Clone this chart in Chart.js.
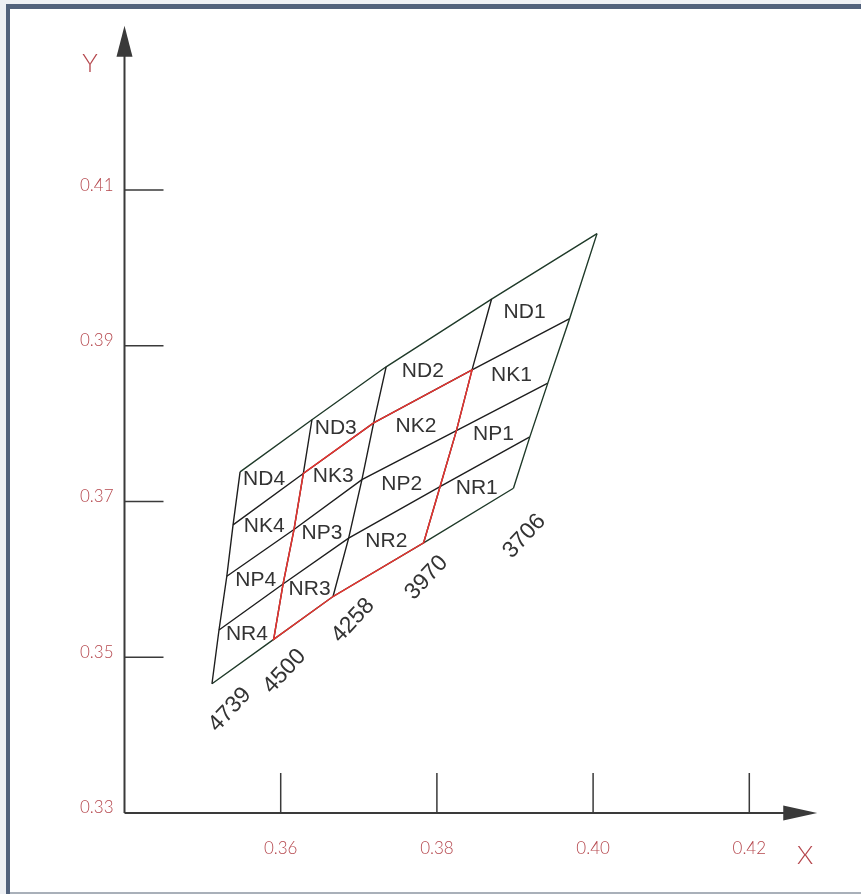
<!DOCTYPE html>
<html>
<head>
<meta charset="utf-8">
<script src="https://cdn.jsdelivr.net/npm/chart.js@4.4.1/dist/chart.umd.min.js"></script>
<style>
    html, body { margin: 0; padding: 0; background: #fff; }
    #wrap { position: relative; width: 861px; height: 894px; overflow: hidden; }
    canvas { position: absolute; left: 0; top: 0; }
    .edge { position: absolute; }
</style>
</head>
<body>
<div id="wrap">
    <canvas id="myChart" width="861" height="894"></canvas>
    <div class="edge" style="left:0;top:0;width:6px;height:894px;background:#eef0f4"></div>
    <div class="edge" style="left:0;top:0;width:861px;height:4px;background:#eef0f4"></div>
    <div class="edge" style="left:6px;top:4px;width:4px;height:890px;background:#52627c"></div>
    <div class="edge" style="left:6px;top:4px;width:855px;height:5px;background:#52627c"></div>
    <div class="edge" style="left:10px;top:892px;width:851px;height:2px;background:#a9b0b9"></div>
</div>
<script>
const cctLabels = ["4739", "4500", "4258", "3970", "3706"];
const cellLabels = [
    ["ND4", "ND3", "ND2", "ND1"],
    ["NK4", "NK3", "NK2", "NK1"],
    ["NP4", "NP3", "NP2", "NP1"],
    ["NR4", "NR3", "NR2", "NR1"],
];

// x / y of the corners on each CCT line, from the top (ND) edge down to the bottom (NR) edge
const x4739 = [0.3548, 0.3539, 0.3531, 0.3521, 0.3512];
const y4739 = [0.3738, 0.3670, 0.3604, 0.3535, 0.3466];
const x4500 = [0.3640, 0.3629, 0.3617, 0.3603, 0.3591];
const y4500 = [0.3805, 0.3736, 0.3664, 0.3594, 0.3523];
const x4258 = [0.3735, 0.3719, 0.3704, 0.3687, 0.3667];
const y4258 = [0.3873, 0.3801, 0.3728, 0.3653, 0.3578];
const x3970 = [0.3870, 0.3845, 0.3825, 0.3804, 0.3783];
const y3970 = [0.3960, 0.3869, 0.3791, 0.3719, 0.3647];
const x3706 = [0.4005, 0.3970, 0.3942, 0.3919, 0.3898];
const y3706 = [0.4044, 0.3935, 0.3852, 0.3783, 0.3717];

const xTicks = [0.36, 0.38, 0.40, 0.42];
const xTickLabels = ["0.36", "0.38", "0.40", "0.42"];
const yTicks = [0.33, 0.35, 0.37, 0.39, 0.41];
const yTickLabels = ["0.33", "0.35", "0.37", "0.39", "0.41"];

// highlighted block: between the 4500 and 3970 lines, NK down to NR
const redLines = [1, 3];
const redRows = [1, 4];

const lineX = [x4739, x4500, x4258, x3970, x3706];
const lineY = [y4739, y4500, y4258, y3970, y3706];
const node = (c, r) => ({ x: lineX[c][r], y: lineY[c][r] });

const BLACK = "#1e1e1e";
const EDGE = "#1f3a29";
const RED = "#e8332f";

const datasets = [];
const seg = (pts, color, order, width) => ({
    data: pts,
    showLine: true,
    borderColor: color,
    borderWidth: width || 1.4,
    pointRadius: 0,
    fill: false,
    tension: 0,
    order: order,
});

// CCT lines
for (let c = 0; c < 5; c++) {
    const pts = [0, 1, 2, 3, 4].map(r => node(c, r));
    datasets.push(seg(pts, c === 4 ? EDGE : BLACK, 2));
}
// row boundaries
for (let r = 0; r < 5; r++) {
    const pts = [0, 1, 2, 3, 4].map(c => node(c, r));
    datasets.push(seg(pts, (r === 0 || r === 4) ? EDGE : BLACK, 2));
}
// red outline
const redPts = [];
for (let r = redRows[0]; r <= redRows[1]; r++) redPts.push(node(redLines[0], r));
for (let c = redLines[0] + 1; c <= redLines[1]; c++) redPts.push(node(c, redRows[1]));
for (let r = redRows[1] - 1; r >= redRows[0]; r--) redPts.push(node(redLines[1], r));
for (let c = redLines[1] - 1; c >= redLines[0]; c--) redPts.push(node(c, redRows[0]));
datasets.push(seg(redPts, RED, 1, 1.5));

const axisEnd = { x: 0.4287, y: 0.4311 };
const labelRed = "#b5474d";
const cctShift = [[18, 26], [11, 32], [20, 24], [3, 35], [11, 48]];

const decor = {
    id: "decor",
    beforeDatasetsDraw(chart) {
        const { ctx, scales: { x, y } } = chart;
        const x0 = x.getPixelForValue(0.34), y0 = y.getPixelForValue(0.33);
        const xTip = x.getPixelForValue(axisEnd.x), yTip = y.getPixelForValue(axisEnd.y);
        ctx.save();
        ctx.strokeStyle = "#3a3a3a";
        ctx.fillStyle = "#3a3a3a";
        ctx.lineWidth = 2;
        ctx.beginPath();
        ctx.moveTo(x0, y0); ctx.lineTo(x0, yTip + 28);
        ctx.moveTo(x0, y0); ctx.lineTo(xTip - 30, y0);
        ctx.stroke();
        // arrow heads
        ctx.beginPath();
        ctx.moveTo(x0, yTip); ctx.lineTo(x0 - 8, yTip + 31); ctx.lineTo(x0 + 8, yTip + 31);
        ctx.closePath(); ctx.fill();
        ctx.beginPath();
        ctx.moveTo(xTip, y0); ctx.lineTo(xTip - 34, y0 - 7.5); ctx.lineTo(xTip - 34, y0 + 7.5);
        ctx.closePath(); ctx.fill();

        // tick marks, pointing into the plot
        ctx.lineWidth = 1.5;
        ctx.beginPath();
        yTicks.forEach(v => {
            if (v === 0.33) return;
            const py = y.getPixelForValue(v);
            ctx.moveTo(x0, py); ctx.lineTo(x0 + 39, py);
        });
        xTicks.forEach(v => {
            const px = x.getPixelForValue(v);
            ctx.moveTo(px, y0); ctx.lineTo(px, y0 - 40);
        });
        ctx.stroke();

        ctx.fillStyle = labelRed;
        ctx.font = "300 17px Lato";
        ctx.textAlign = "right";
        ctx.textBaseline = "middle";
        yTicks.forEach((v, i) => ctx.fillText(yTickLabels[i], x0 - 11, y.getPixelForValue(v) - 5));
        ctx.textAlign = "center";
        xTicks.forEach((v, i) => ctx.fillText(xTickLabels[i], x.getPixelForValue(v), y0 + 36));
        ctx.font = "300 26px Lato";
        ctx.fillText("Y", 90, 64);
        ctx.fillText("X", 805, 856);
        ctx.restore();
    },
    afterDatasetsDraw(chart) {
        const { ctx, scales: { x, y } } = chart;
        const px = (c, r) => [x.getPixelForValue(lineX[c][r]), y.getPixelForValue(lineY[c][r])];
        ctx.save();
        ctx.fillStyle = "#333";
        ctx.textAlign = "center";
        ctx.textBaseline = "middle";
        ctx.font = "21px 'Liberation Sans'";
        for (let r = 0; r < 4; r++) {
            for (let c = 0; c < 4; c++) {
                const corners = [px(c, r), px(c + 1, r), px(c + 1, r + 1), px(c, r + 1)];
                let cx = corners.reduce((s, p) => s + p[0], 0) / 4;
                let cy = corners.reduce((s, p) => s + p[1], 0) / 4;
                if (r === 0) { cx -= 8; cy += 7; }
                ctx.fillText(cellLabels[r][c], cx, cy);
            }
        }
        ctx.font = "23px 'Liberation Sans'";
        cctLabels.forEach((t, c) => {
            const [bx, by] = px(c, 4);
            ctx.save();
            ctx.translate(bx + cctShift[c][0], by + cctShift[c][1]);
            ctx.rotate(-47 * Math.PI / 180);
            ctx.fillText(t, 0, 0);
            ctx.restore();
        });
        ctx.restore();
    },
};

new Chart(document.getElementById("myChart"), {
    type: "scatter",
    data: { datasets: datasets },
    options: {
        responsive: false,
        animation: false,
        layout: { padding: { left: 124.5, right: 33.6, top: 18.7, bottom: 81 } },
        scales: {
            x: { type: "linear", min: 0.34, max: 0.43, display: false },
            y: { type: "linear", min: 0.33, max: 0.432, display: false },
        },
        plugins: { legend: { display: false }, tooltip: { enabled: false } },
    },
    plugins: [decor],
});
</script>
</body>
</html>
